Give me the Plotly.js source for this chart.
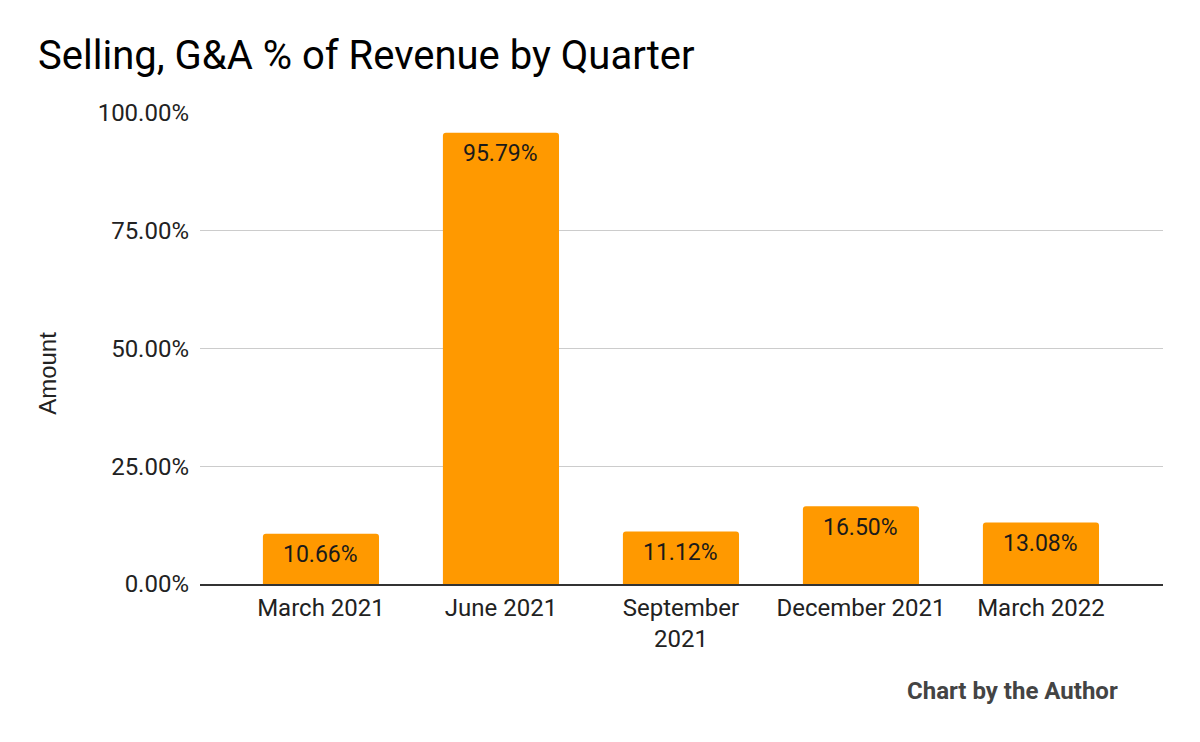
<!DOCTYPE html>
<html>
<head>
<meta charset="utf-8">
<script src="https://cdn.plot.ly/plotly-3.0.1.min.js"></script>
<style>html,body{margin:0;padding:0;background:#fff;}#chart{width:1200px;height:742px;}</style>
</head>
<body>
<div id="chart"></div>
<script>
const categories = ["March 2021", "June 2021", "September<br>2021", "December 2021", "March 2022"];
const values = [10.66, 95.79, 11.12, 16.50, 13.08];
const labels = ["10.66%", "95.79%", "11.12%", "16.50%", "13.08%"];
const tickVals = [0, 25, 50, 75, 100];
const tickText = ["0.00%", "25.00%", "50.00%", "75.00%", "100.00%"];

const trace = {
  type: "bar",
  x: categories,
  y: values,
  marker: { color: "#ff9900", cornerradius: 3 },
  hoverinfo: "none"
};

const annotations = categories.map((c, i) => ({
  x: c, y: values[i], xref: "x", yref: "y",
  text: labels[i], showarrow: false,
  yanchor: "middle", yshift: -21,
  font: { family: "Roboto", size: 23, color: "#1a1a1a" }
}));
annotations.push({
  xref: "paper", yref: "paper", x: -0.158, y: 0.448,
  text: "Amount", textangle: -90, showarrow: false,
  xanchor: "center", yanchor: "middle",
  font: { family: "Liberation Sans, Arial", size: 24, color: "#222" }
});
annotations.push({
  xref: "paper", yref: "paper", x: 0.9553, y: -0.227,
  text: "<b>Chart by the Author</b>", showarrow: false,
  xanchor: "right", yanchor: "middle",
  font: { family: "Roboto", size: 24, color: "#444" }
});

const layout = {
  width: 1200, height: 742,
  margin: { l: 200, r: 37, t: 113, b: 158 },
  paper_bgcolor: "#fff", plot_bgcolor: "#fff",
  showlegend: false,
  bargap: 0.355,
  title: {
    text: "Selling, G&A % of Revenue by Quarter",
    x: 0.0317, xanchor: "left", xref: "container",
    y: 0.926, yanchor: "middle", yref: "container",
    font: { family: "Roboto", size: 40, color: "#000" }
  },
  xaxis: {
    type: "category",
    range: [-0.672, 4.678],
    showgrid: false, zeroline: false,
    showline: true, linecolor: "#333", linewidth: 2,
    ticks: "", ticklabelstandoff: 1,
    tickfont: { family: "Roboto", size: 24, color: "#222" },
    fixedrange: true
  },
  yaxis: {
    range: [0, 100],
    tickvals: tickVals, ticktext: tickText,
    showgrid: true, gridcolor: "#cccccc", gridwidth: 1,
    zeroline: false, showline: false,
    ticks: "", ticklabelstandoff: 10,
    tickfont: { family: "Roboto", size: 24, color: "#222" },
    fixedrange: true
  },
  annotations: annotations
};

Plotly.newPlot("chart", [trace], layout, { displayModeBar: false, staticPlot: true });
</script>
</body>
</html>
